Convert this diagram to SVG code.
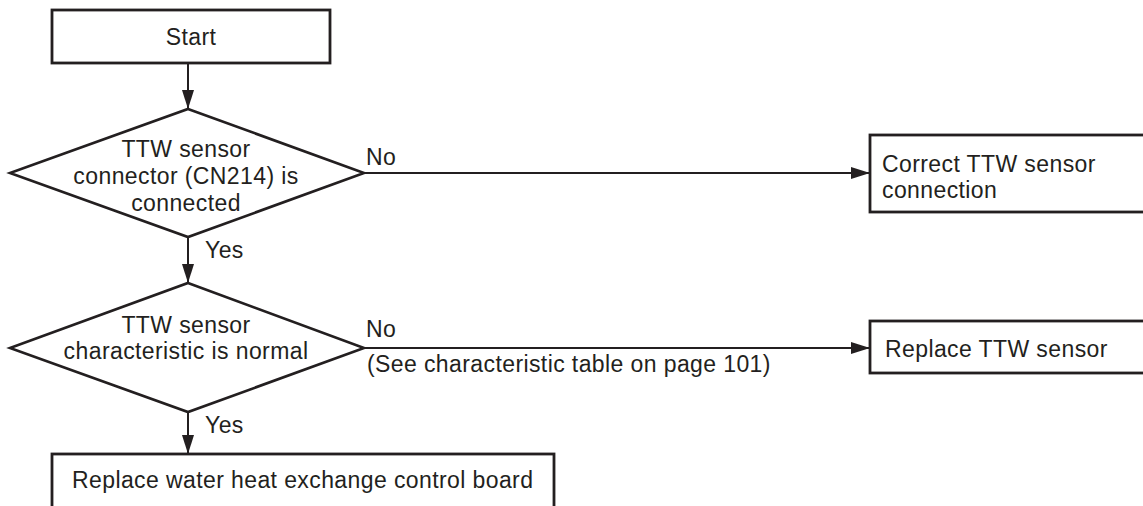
<svg xmlns="http://www.w3.org/2000/svg" width="1143" height="506" viewBox="0 0 1143 506">
<defs>
<style>
.box{fill:#fff;stroke:#231f20;stroke-width:2.8}
.dia{fill:#fff;stroke:#231f20;stroke-width:2.6;stroke-linejoin:miter}
.ln{fill:none;stroke:#231f20;stroke-width:2}
text{font-family:"Liberation Sans",Arial,sans-serif;font-size:23px;fill:#231f20;letter-spacing:0.4px}
.c{text-anchor:middle}
</style>
<marker id="ah" markerUnits="userSpaceOnUse" markerWidth="20" markerHeight="12" refX="19" refY="6" orient="auto">
<path d="M0,0 L19,6 L0,12 Z" fill="#231f20"/>
</marker>
</defs>
<g id="connectors">
<line class="ln" x1="188" y1="64" x2="188" y2="109" marker-end="url(#ah)"/>
<line class="ln" x1="364" y1="173" x2="870" y2="173" marker-end="url(#ah)"/>
<line class="ln" x1="188" y1="237" x2="188" y2="283" marker-end="url(#ah)"/>
<line class="ln" x1="364" y1="348" x2="870" y2="348" marker-end="url(#ah)"/>
<line class="ln" x1="188" y1="412" x2="188" y2="454" marker-end="url(#ah)"/>
<text x="366" y="165">No</text>
<text x="205" y="258">Yes</text>
<text x="366" y="337">No</text>
<text x="367" y="372">(See characteristic table on page 101)</text>
<text x="205" y="433">Yes</text>
</g>
<g id="start">
<rect class="box" x="52" y="10" width="278" height="53"/>
<text class="c" x="191" y="45">Start</text>
</g>
<g id="decision1">
<polygon class="dia" points="188,109 364,173 188,237 10,173"/>
<text class="c" x="186" y="157">TTW sensor</text>
<text class="c" x="186" y="184">connector (CN214) is</text>
<text class="c" x="186" y="211">connected</text>
</g>
<g id="correct">
<rect class="box" x="870" y="135" width="300" height="77"/>
<text x="882" y="172">Correct TTW sensor</text>
<text x="882" y="198">connection</text>
</g>
<g id="decision2">
<polygon class="dia" points="188,283 364,348 188,412 10,348"/>
<text class="c" x="186" y="333">TTW sensor</text>
<text class="c" x="186" y="359">characteristic is normal</text>
</g>
<g id="replace-sensor">
<rect class="box" x="870" y="321" width="300" height="52"/>
<text x="885" y="357">Replace TTW sensor</text>
</g>
<g id="replace-board">
<rect class="box" x="52" y="454" width="502" height="70"/>
<text x="72" y="488">Replace water heat exchange control board</text>
</g>
</svg>
